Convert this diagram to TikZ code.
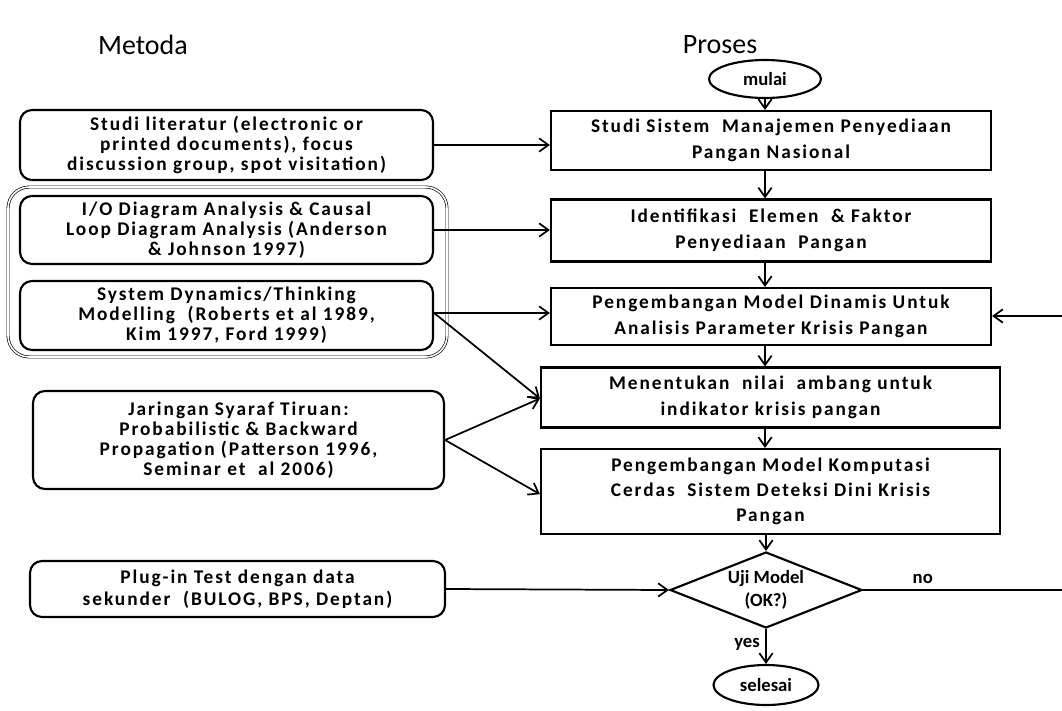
\documentclass[tikz,border=0pt]{standalone}
\usepackage{fontspec}
\setmainfont{Carlito}
\newfontfamily\boxfont{Carlito}[LetterSpace=10]
\usetikzlibrary{shapes.geometric,arrows.meta}
\begin{document}
\begin{tikzpicture}[x=0.75pt,y=-0.75pt,
  every node/.style={font=\boxfont\bfseries\fontsize{14.5}{15}\selectfont, align=center, inner sep=0pt},
  lbox/.style={draw, line width=1.6pt, rounded corners=9pt},
  pbox/.style={draw, line width=1.6pt, font=\boxfont\bfseries\fontsize{14.5}{19}\selectfont},
  term/.style={draw, ellipse, line width=1.6pt, font=\bfseries\fontsize{14}{16}\selectfont},
  small/.style={font=\bfseries\fontsize{14}{16}\selectfont},
  title/.style={font=\fontsize{21}{24}\selectfont},
  arr/.style={line width=1.3pt, -{Straight Barb[length=7pt,width=10pt,line width=1.3pt]}},
  ln/.style={line width=1.3pt}
]
\useasboundingbox (0,0) rectangle (1062,710);
% titles
\node[title] (tm) at (143,45) {Metoda};
\node[title] (tp) at (720,45) {Proses};
% process column
\node[term, minimum width={112*0.75pt}, minimum height={38*0.75pt}] (mulai) at (765,79) {mulai};
\node[pbox, minimum width={440*0.75pt}, minimum height={59*0.75pt}] (b1) at (771,140.5) {Studi Sistem\ \ Manajemen Penyediaan\\Pangan Nasional};
\node[pbox, minimum width={440*0.75pt}, minimum height={62*0.75pt}] (b2) at (771,230.5) {Identifikasi\ \ Elemen\ \ \& Faktor\\Penyediaan\ \ Pangan};
\node[pbox, minimum width={440*0.75pt}, minimum height={57*0.75pt}] (b3) at (771,316.5) {Pengembangan Model Dinamis Untuk\\Analisis Parameter Krisis Pangan};
\node[pbox, minimum width={459*0.75pt}, minimum height={60*0.75pt}] (b4) at (770.5,397.5) {Menentukan\ \ nilai\ \ ambang untuk\\indikator krisis pangan};
\node[pbox, minimum width={459*0.75pt}, minimum height={85*0.75pt}] (b5) at (770.5,491.5) {Pengembangan Model Komputasi\\Cerdas\ \ Sistem Deteksi Dini Krisis\\Pangan};
\node[draw, diamond, line width=1.6pt, minimum width={192*0.75pt}, minimum height={76*0.75pt}] (uji) at (766,590) {};
\node[small, font=\bfseries\fontsize{14}{17}\selectfont] (ujit) at (uji.center) {Uji Model\\(OK?)};
\node[term, minimum width={105*0.75pt}, minimum height={40*0.75pt}] (selesai) at (766,685) {selesai};
% method column
\node[draw, double, line width=0.5pt, double distance=1.2pt, rounded corners=16pt, minimum width={439*0.75pt}, minimum height={170*0.75pt}] (grp) at (227.5,272) {};
\node[lbox, minimum width={413*0.75pt}, minimum height={70*0.75pt}] (m1) at (226.5,145) {Studi literatur (electronic or\\printed documents), focus\\discussion group, spot visitation)};
\node[lbox, minimum width={413*0.75pt}, minimum height={68*0.75pt}] (m2) at (226.5,230) {I/O Diagram Analysis \& Causal\\Loop Diagram Analysis (Anderson\\\& Johnson 1997)};
\node[lbox, minimum width={413*0.75pt}, minimum height={69*0.75pt}] (m3) at (226.5,315.5) {System Dynamics/Thinking\\Modelling\ \ (Roberts et al 1989,\\Kim 1997, Ford 1999)};
\node[lbox, minimum width={411*0.75pt}, minimum height={98*0.75pt}] (m4) at (238.5,440) {Jaringan Syaraf Tiruan:\\Probabilistic \& Backward\\Propagation (Patterson 1996,\\Seminar et\ \ al 2006)};
\node[lbox, minimum width={415*0.75pt}, minimum height={56*0.75pt}, font=\boxfont\bfseries\fontsize{14.5}{16.5}\selectfont] (m5) at (237.5,589) {Plug-in Test dengan data\\sekunder\ \ (BULOG, BPS, Deptan)};
% process arrows
\draw[arr] (mulai) -- (b1.north -| mulai.south);
\draw[arr] (b1.south -| mulai.south) -- (b2.north -| mulai.south);
\draw[arr] (b2.south -| mulai.south) -- (b3.north -| mulai.south);
\draw[arr] (b3.south -| mulai.south) -- (b4.north -| mulai.south);
\draw[arr] (b4.south -| mulai.south) -- (b5.north -| mulai.south);
\draw[arr] (b5.south -| uji.north) -- (uji.north);
\draw[arr] (uji.south) -- node[small, left=4pt, pos=0.45] {yes} (selesai.north);
% method arrows
\draw[arr] (m1.east) -- (b1.west |- m1.east);
\draw[arr] (m2.east) -- (b2.west |- m2.east);
\draw[arr] (m3.east) ++(0,-2.5) coordinate (m3e) -- (b3.west |- m3e);
\coordinate (b4in) at ([yshift=-0.75pt]b4.west);
\draw[arr] (m3e) -- (b4in);
\draw[arr] (m4.east) -- (b4in);
\draw[arr] (m4.east) -- ([yshift=-2pt]b5.west);
\draw[arr] (m5.east) -- (uji.west);
% feedback
\coordinate (fbA) at (1062,590);
\coordinate (fbB) at (1062,316);
\draw[ln] (uji.east) -- node[small, above=4pt, pos=0.3] {no} (fbA);
\draw[arr] (fbB) -- (b3.east |- fbB);
\end{tikzpicture}
\end{document}
